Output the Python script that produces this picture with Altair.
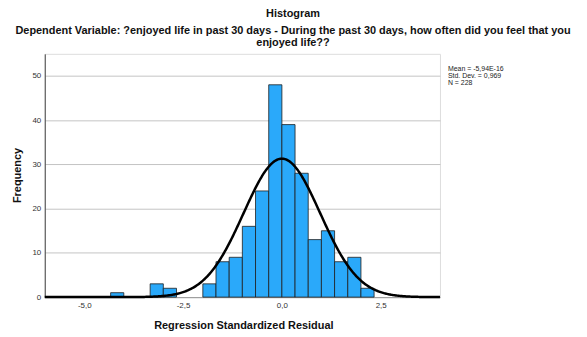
import altair as alt
import pandas as pd

# ---- data ----
bin_start = [-4.333, -3.333, -3.0, -2.0, -1.667, -1.333, -1.0, -0.667,
             -0.333, 0.0, 0.333, 0.667, 1.0, 1.333, 1.667, 2.0]
counts = [1, 3, 2, 3, 8, 9, 16, 24, 48, 39, 28, 13, 15, 8, 9, 2]
bin_width = 1 / 3
mean = -5.94e-16
std_dev = 0.969
n_obs = 228
x_ticks = [-5.0, -2.5, 0.0, 2.5]
y_ticks = [0, 10, 20, 30, 40, 50]
stats_lines = ["Mean = -5,94E-16", "Std. Dev. = 0,969", "N = 228"]
title_main = "Histogram"
subtitle_lines = [
    "Dependent Variable: ?enjoyed life in past 30 days - During the past 30 days, how often did you feel that you",
    "enjoyed life??",
]
x_title = "Regression Standardized Residual"
y_title = "Frequency"

FONT = "Liberation Sans"

bars_df = pd.DataFrame({
    "start": bin_start,
    "end": [s + bin_width for s in bin_start],
    "count": counts,
})

x_scale = alt.Scale(domain=[-6, 4], nice=False, zero=False)
y_scale = alt.Scale(domain=[0, 55], nice=False)

label_expr = "(datum.value < 0 ? '-' : '') + replace(format(abs(datum.value), '.1f'), '.', ',')"

bars = alt.Chart(bars_df).mark_bar(
    color="#2aa9fa", stroke="#1e1e1e", strokeWidth=0.8
).encode(
    x=alt.X("start:Q", scale=x_scale,
            axis=alt.Axis(values=x_ticks, labelExpr=label_expr, ticks=False, grid=False,
                          labelFontSize=8, labelColor="#333333", labelPadding=4,
                          domainColor="#999999", title=x_title, titleFontSize=11,
                          titleFontWeight="bold", titleColor="#111111",
                          titleBaseline="middle", titleY=29, titleX=200)),
    x2="end:Q",
    y=alt.Y("count:Q", scale=y_scale,
            axis=alt.Axis(values=y_ticks, ticks=False, grid=True, gridColor="#c4c4c4",
                          gridWidth=1, labelFontSize=8, labelColor="#333333",
                          labelPadding=4, domainColor="#444444", title=y_title,
                          titleFontSize=11, titleFontWeight="bold", titleColor="#111111",
                          titleAngle=270, titleBaseline="middle", titleAlign="center",
                          titleX=-27, titleY=122)),
    y2=alt.datum(0),
)

curve = alt.Chart(alt.sequence(-6, 4.001, 0.02, as_="x")).transform_calculate(
    y=f"{n_obs}*{bin_width}/({std_dev}*sqrt(2*PI))*exp(-0.5*pow((datum.x-({mean}))/{std_dev},2))"
).mark_line(color="black", strokeWidth=2.5).encode(
    x=alt.X("x:Q", scale=x_scale),
    y=alt.Y("y:Q", scale=y_scale),
)

stats_df = pd.DataFrame({"txt": stats_lines, "row": list(range(len(stats_lines)))})
stats = alt.Chart(stats_df).transform_calculate(
    py="15 + datum.row * 7"
).mark_text(align="left", baseline="middle", fontSize=7, font=FONT, color="#222222").encode(
    x=alt.value(406),
    y=alt.Y("py:Q", scale=None),
    text="txt:N",
)

title_df = pd.DataFrame({"txt": [title_main]})
title = alt.Chart(title_df).mark_text(
    align="center", baseline="middle", fontSize=11, fontWeight="bold", font=FONT, color="#111111"
).encode(x=alt.value(250), y=alt.value(-40), text="txt:N")

sub_df = pd.DataFrame({"txt": subtitle_lines, "row": list(range(len(subtitle_lines)))})
subtitle = alt.Chart(sub_df).transform_calculate(
    py="-23 + datum.row * 12"
).mark_text(
    align="center", baseline="middle", fontSize=11, fontWeight="bold", font=FONT, color="#111111"
).encode(x=alt.value(250), y=alt.Y("py:Q", scale=None), text="txt:N")

chart = alt.layer(bars, curve, stats, title, subtitle).properties(
    width=398, height=245,
    autosize=alt.AutoSizeParams(type="none"),
    padding={"left": 37, "top": 45, "right": 140, "bottom": 35},
).configure_view(stroke=None).configure(font=FONT)

chart.save("out.html", embed_options={"renderer": "svg", "actions": False})
